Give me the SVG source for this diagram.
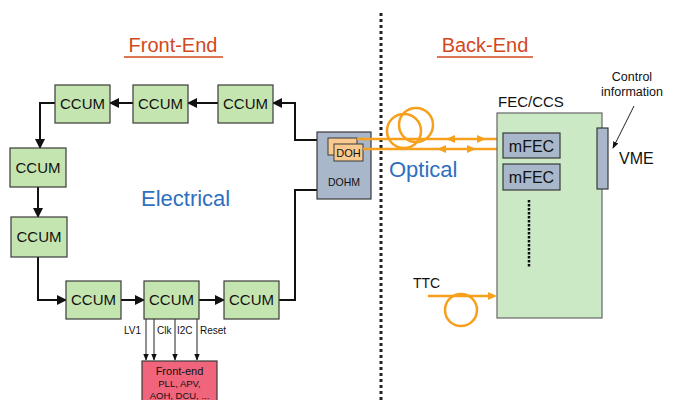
<svg xmlns="http://www.w3.org/2000/svg" width="673" height="400" viewBox="0 0 673 400">
<defs>
<style>
.ccum{fill:#c5e5b0;stroke:#3a3a3a;stroke-width:1.2}
.ct{font-family:"Liberation Sans",Arial,sans-serif;font-size:15px;fill:#111;text-anchor:middle}
.lk{fill:none;stroke:#111;stroke-width:2}
.thin{fill:none;stroke:#222;stroke-width:1}
.or{fill:none;stroke:#f7a01c;stroke-width:2.5}
.title{font-family:"Liberation Sans",Arial,sans-serif;font-size:20px;fill:#d2491c;text-anchor:middle}
.gb{fill:#a8b7c9;stroke:#3a3a3a;stroke-width:1.2}
.sm{font-family:"Liberation Sans",Arial,sans-serif;fill:#111}
</style>
<marker id="ah" viewBox="0 0 10 10" refX="9" refY="5" markerWidth="5" markerHeight="5" orient="auto"><path d="M0,0 L10,5 L0,10 z" fill="#111"/></marker>
<marker id="ahs" viewBox="0 0 10 10" refX="9" refY="5" markerWidth="7" markerHeight="7" orient="auto"><path d="M0,1 L10,5 L0,9 z" fill="#111"/></marker>
</defs>
<rect width="673" height="400" fill="#fff"/>

<text class="title" x="173" y="52">Front-End</text>
<line x1="124" y1="57" x2="223" y2="57" stroke="#d2491c" stroke-width="1.5"/>
<text class="title" x="485" y="52">Back-End</text>
<line x1="437" y1="57" x2="533" y2="57" stroke="#d2491c" stroke-width="1.5"/>

<line x1="381" y1="13" x2="381" y2="400" stroke="#222" stroke-width="3" stroke-dasharray="3,3"/>

<g id="connectors">
<path class="lk" d="M318,140 H295 V103 H273" marker-end="url(#ah)"/>
<path class="lk" d="M218,103 H188" marker-end="url(#ah)"/>
<path class="lk" d="M133,103 H110" marker-end="url(#ah)"/>
<path class="lk" d="M55,103 H40 V148" marker-end="url(#ah)"/>
<path class="lk" d="M38,187 V217" marker-end="url(#ah)"/>
<path class="lk" d="M38,257 V300 H66" marker-end="url(#ah)"/>
<path class="lk" d="M121,300 H144" marker-end="url(#ah)"/>
<path class="lk" d="M199,300 H224" marker-end="url(#ah)"/>
<path class="lk" d="M279,300 H295 V190 H318"/>
<path class="thin" d="M146,319 V360" marker-end="url(#ahs)"/>
<path class="thin" d="M154,319 V360" marker-end="url(#ahs)"/>
<path class="thin" d="M175,319 V360" marker-end="url(#ahs)"/>
<path class="thin" d="M197,319 V360" marker-end="url(#ahs)"/>
<path class="thin" d="M634,106 L613,148" marker-end="url(#ahs)"/>
</g>

<g id="ccum1"><rect class="ccum" x="55" y="85" width="55" height="38"/><text class="ct" x="82.5" y="109">CCUM</text></g>
<g id="ccum2"><rect class="ccum" x="133" y="85" width="55" height="38"/><text class="ct" x="160.5" y="109">CCUM</text></g>
<g id="ccum3"><rect class="ccum" x="218" y="85" width="55" height="38"/><text class="ct" x="245.5" y="109">CCUM</text></g>
<g id="ccum4"><rect class="ccum" x="10" y="148" width="56" height="39"/><text class="ct" x="38" y="173">CCUM</text></g>
<g id="ccum5"><rect class="ccum" x="11" y="217" width="56" height="40"/><text class="ct" x="39" y="242">CCUM</text></g>
<g id="ccum6"><rect class="ccum" x="66" y="281" width="55" height="38"/><text class="ct" x="93.5" y="305">CCUM</text></g>
<g id="ccum7"><rect class="ccum" x="144" y="281" width="55" height="38"/><text class="ct" x="171.5" y="305">CCUM</text></g>
<g id="ccum8"><rect class="ccum" x="224" y="281" width="55" height="38"/><text class="ct" x="251.5" y="305">CCUM</text></g>

<text class="sm" x="141" y="206" font-size="22" style="fill:#2f6fbf">Electrical</text>

<g id="signals" class="sm" font-size="10">
<text x="124" y="334">LV1</text>
<text x="157" y="334">Clk</text>
<text x="177" y="334">I2C</text>
<text x="200" y="334">Reset</text>
</g>

<g id="frontend">
<rect x="142" y="361" width="75" height="45" fill="#f0647c" stroke="#3a3a3a" stroke-width="1.2"/>
<text class="sm" x="179.5" y="375" font-size="11" text-anchor="middle">Front-end</text>
<text class="sm" x="179.5" y="387" font-size="9.5" text-anchor="middle">PLL, APV,</text>
<text class="sm" x="179.5" y="399" font-size="9.5" text-anchor="middle">AOH, DCU, ...</text>
</g>

<g id="dohm">
<rect class="gb" x="317" y="132" width="54" height="67"/>
<rect x="328" y="138" width="29" height="17" fill="#f9c98f" stroke="#3a3a3a" stroke-width="1"/>
<rect x="334" y="144" width="29" height="17" fill="#f9c98f" stroke="#3a3a3a" stroke-width="1"/>
<text class="sm" x="348.5" y="157" font-size="11" text-anchor="middle">DOH</text>
<text class="sm" x="344" y="186" font-size="10.5" text-anchor="middle">DOHM</text>
</g>

<g id="optical">
<circle class="or" cx="404" cy="131" r="17"/>
<circle class="or" cx="416" cy="125" r="17"/>
<line class="or" x1="357" y1="139" x2="503" y2="139"/>
<line class="or" x1="363" y1="149" x2="503" y2="149"/>
<path d="M446,139 l9,-4 v8 z" fill="#f7a01c"/>
<path d="M486,139 l-9,-4 v8 z" fill="#f7a01c"/>
<path d="M437,149 l9,-4 v8 z" fill="#f7a01c"/>
<path d="M476,149 l-9,-4 v8 z" fill="#f7a01c"/>
<text class="sm" x="389" y="177" font-size="22" style="fill:#2f6fbf">Optical</text>
</g>

<g id="fec">
<text class="sm" x="498" y="107" font-size="15">FEC/CCS</text>
<rect x="497" y="113" width="105" height="205" fill="#cbe9c5" stroke="#666" stroke-width="1.2"/>
<rect class="gb" x="503" y="133" width="57" height="25"/>
<text class="sm" x="531.5" y="152" font-size="16" text-anchor="middle">mFEC</text>
<rect class="gb" x="503" y="164" width="57" height="26"/>
<text class="sm" x="531.5" y="183" font-size="16" text-anchor="middle">mFEC</text>
<line x1="529" y1="200" x2="529" y2="268" stroke="#111" stroke-width="2.5" stroke-dasharray="2.5,1.5"/>
</g>

<g id="vme">
<rect class="gb" x="597" y="128" width="11" height="61"/>
<text class="sm" x="619" y="164" font-size="16">VME</text>
<text class="sm" x="632" y="81" font-size="12.5" text-anchor="middle">Control</text>
<text class="sm" x="632" y="96" font-size="12.5" text-anchor="middle">information</text>
</g>

<g id="ttc">
<text class="sm" x="413" y="288" font-size="14">TTC</text>
<circle class="or" cx="461" cy="310" r="16"/>
<line class="or" x1="428" y1="296" x2="490" y2="296"/>
<path d="M497,296 l-9,-4 v8 z" fill="#f7a01c"/>
</g>
</svg>
